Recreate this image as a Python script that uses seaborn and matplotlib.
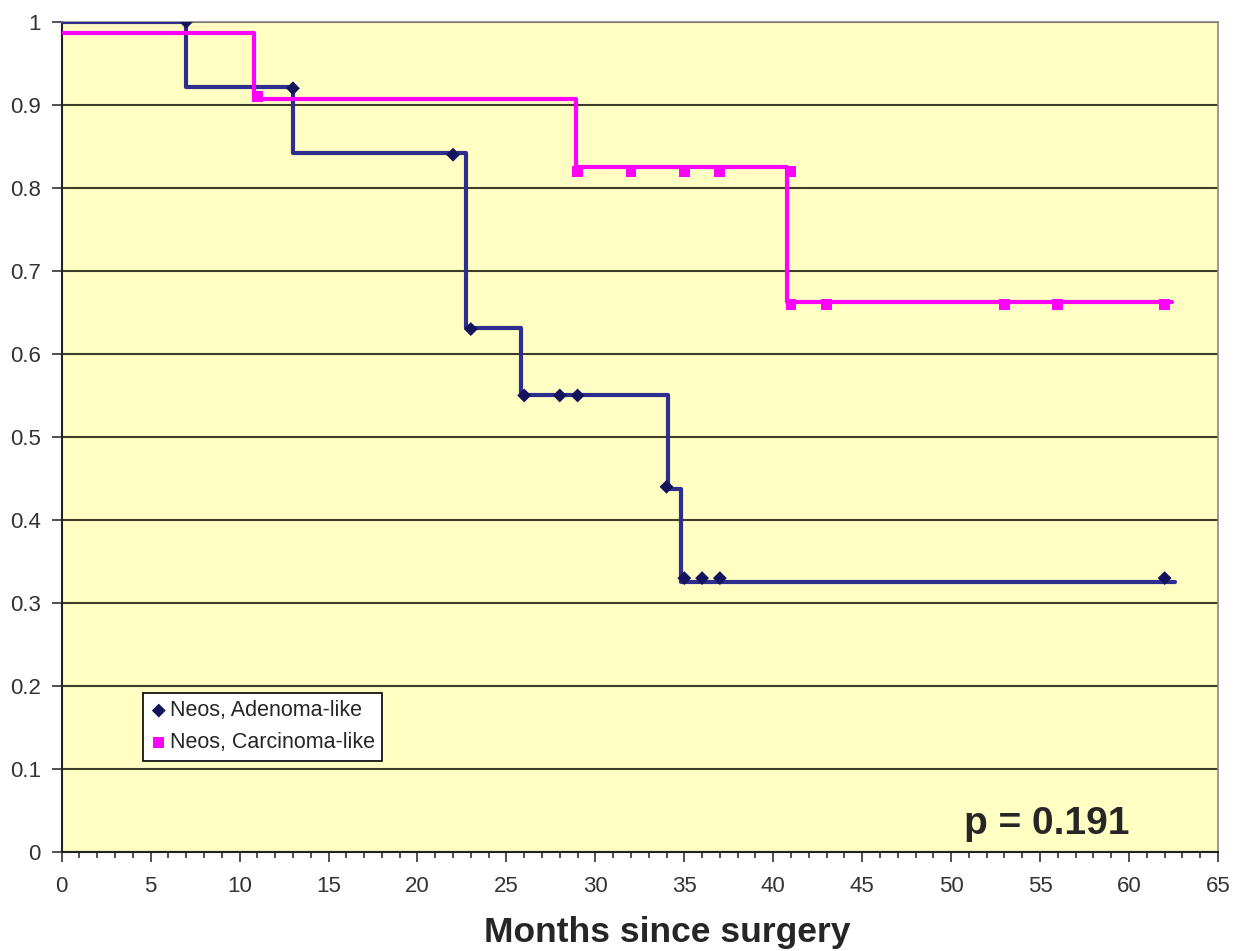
import pandas as pd
import matplotlib.pyplot as plt
import seaborn as sns
from matplotlib.ticker import MultipleLocator

# step curves
adeno_t = [0, 7, 13, 22.7, 25.8, 34.1, 34.8, 62.6]
adeno_s = [1.0, 0.922, 0.842, 0.631, 0.551, 0.437, 0.325, 0.325]
carci_t = [0, 10.8, 28.9, 40.8, 62.4]
carci_s = [0.987, 0.907, 0.825, 0.663, 0.663]

# marker points
adeno_mx = [7, 13, 22, 23, 26, 28, 29, 34, 35, 36, 37, 62]
adeno_my = [1.0, 0.92, 0.84, 0.63, 0.55, 0.55, 0.55, 0.44, 0.33, 0.33, 0.33, 0.33]
carci_mx = [11, 29, 32, 35, 37, 41, 41, 43, 53, 56, 62]
carci_my = [0.91, 0.82, 0.82, 0.82, 0.82, 0.82, 0.66, 0.66, 0.66, 0.66, 0.66]

blue = '#2E2E8E'
navy = '#14145E'
pink = '#FF00FF'

sns.set_style('ticks')
plt.rcParams['font.family'] = ['Liberation Sans', 'DejaVu Sans']

fig = plt.figure(figsize=(12.34, 9.51), dpi=100)
ax = fig.add_axes([0.050, 0.104, 0.937, 0.873])
ax.set_facecolor('#FFFFC4')

sns.lineplot(x=adeno_t, y=adeno_s, ax=ax, drawstyle='steps-post', color=blue, lw=3, zorder=3)
sns.lineplot(x=carci_t, y=carci_s, ax=ax, drawstyle='steps-post', color=pink, lw=3, zorder=3)
sns.scatterplot(x=adeno_mx, y=adeno_my, ax=ax, marker='D', color=navy, s=50, edgecolor='none',
                label='Neos, Adenoma-like', zorder=4)
sns.scatterplot(x=carci_mx, y=carci_my, ax=ax, marker='s', color=pink, s=60, edgecolor='none',
                label='Neos, Carcinoma-like', zorder=4)

ax.set_xlim(0, 65)
ax.set_ylim(0, 1)
ax.xaxis.set_major_locator(MultipleLocator(5))
ax.xaxis.set_minor_locator(MultipleLocator(1))
ax.set_yticks([i / 10 for i in range(11)])
ax.set_yticklabels(['0'] + ['0.%d' % i for i in range(1, 10)] + ['1'])
ax.grid(axis='y', color='#3C3C28', lw=1.5)
ax.set_axisbelow(True)

ax.tick_params(axis='both', which='major', direction='out', length=7, width=1.2,
               labelsize=16, colors='#333333')
ax.tick_params(axis='x', which='major', pad=10)
ax.tick_params(axis='y', which='major', pad=8)
ax.tick_params(axis='x', which='minor', direction='out', length=4, width=1.2, colors='#333333')
for side in ['left', 'bottom']:
    ax.spines[side].set_color('#222222')
    ax.spines[side].set_linewidth(1.5)
for side in ['top', 'right']:
    ax.spines[side].set_visible(True)
    ax.spines[side].set_color('#888888')
    ax.spines[side].set_linewidth(1.2)

ax.set_xlabel('Months since surgery', fontsize=25.5, fontweight='bold', labelpad=14)
ax.xaxis.label.set_x(0.524)
ax.set_ylabel('')

ax.text(55.4, 0.012, 'p = 0.191', fontsize=28, fontweight='bold', ha='center', va='bottom')

leg = ax.legend(loc='upper left', bbox_to_anchor=(0.070, 0.192), fontsize=15.5,
                frameon=True, fancybox=False, framealpha=1, edgecolor='black',
                handletextpad=0.1, handlelength=0.8, borderpad=0.35, labelspacing=0.5,
                borderaxespad=0)
leg.get_frame().set_linewidth(1.2)

fig.savefig('out.png', dpi=100)
